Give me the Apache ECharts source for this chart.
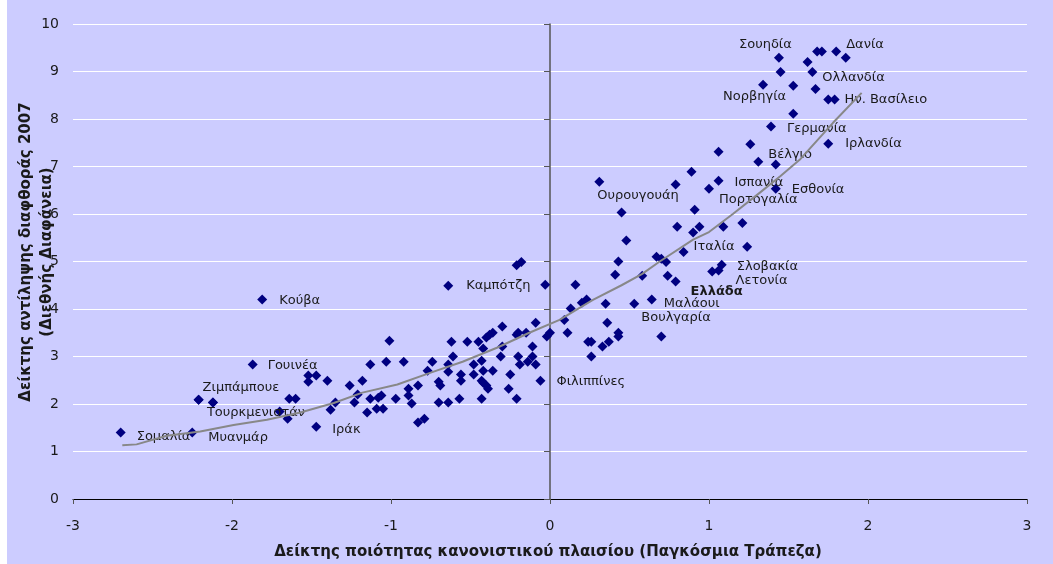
<!DOCTYPE html>
<html>
<head>
<meta charset="utf-8">
<script src="https://cdn.jsdelivr.net/npm/echarts@6/dist/echarts.min.js"></script>
<style>html,body{margin:0;padding:0;background:#fff}#c{width:1053px;height:564px}</style>
</head>
<body>
<div id="c"></div>
<script>
// Unlabelled countries: [regulatory quality, corruption perception index 2007]
const points = [
[-2.21,2.09],[-2.12,2.03],[-1.52,2.60],[-1.47,2.60],[-1.52,2.47],[-1.40,2.49],[-1.64,2.11],[-1.60,2.11],
[-1.70,1.84],[-1.65,1.69],[-1.38,1.88],[-1.35,2.03],[-1.26,2.39],[-1.23,2.03],[-1.18,2.49],[-1.21,2.20],
[-1.15,1.82],[-1.13,2.83],[-1.13,2.11],[-1.09,1.90],[-1.08,2.13],[-1.06,2.18],[-1.05,1.90],[-1.03,2.89],
[-1.01,3.33],[-0.97,2.11],[-0.92,2.89],[-0.89,2.32],[-0.89,2.18],[-0.87,2.01],[-0.83,2.39],[-0.83,1.61],
[-0.79,1.69],[-0.77,2.70],[-0.74,2.89],[-0.70,2.47],[-0.69,2.39],[-0.70,2.03],[-0.64,2.83],[-0.64,2.68],
[-0.62,3.31],[-0.61,3.00],[-0.64,2.03],[-0.57,2.11],[-0.56,2.62],[-0.56,2.49],[-0.52,3.31],[-0.48,2.83],
[-0.48,2.62],[-0.45,3.31],[-0.42,3.17],[-0.43,2.91],[-0.43,2.49],[-0.43,2.11],[-0.42,2.70],[-0.42,2.45],
[-0.40,2.39],[-0.39,2.32],[-0.40,3.40],[-0.38,3.46],[-0.36,3.50],[-0.36,2.70],[-0.31,3.00],[-0.30,3.63],
[-0.30,3.21],[-0.26,2.32],[-0.25,2.62],[-0.21,3.46],[-0.20,3.50],[-0.21,2.11],[-0.20,3.00],[-0.19,2.83],
[-0.15,3.50],[-0.14,2.89],[-0.11,3.21],[-0.09,3.71],[-0.11,3.00],[-0.09,2.83],[-0.02,3.42],[0.00,3.50],
[-0.03,4.51],[0.16,4.51],[-0.21,4.92],[-0.18,4.99],
[0.09,3.77],[0.11,3.50],[0.13,4.01],[0.20,4.13],[0.23,4.20],[0.24,3.31],[0.26,3.31],[0.26,3.00],
[0.33,3.21],[0.35,4.11],[0.36,3.71],[0.37,3.31],[0.43,3.50],[0.43,3.42],[0.70,3.42],
[0.41,4.72],[0.43,5.00],[0.48,5.44],[0.45,6.03],[0.58,4.70],[0.67,5.10],[0.70,5.06],[0.73,4.99],
[0.74,4.70],[0.79,6.62],[0.89,6.89],[0.80,5.73],[0.90,5.61],[0.91,6.09],[0.94,5.73],[1.09,5.73],
[1.21,5.81],[1.24,5.31],[1.02,4.79],[1.06,7.31],[1.26,7.47],[1.53,8.11],[1.42,7.04],[1.45,8.99],
[1.53,8.70],[1.62,9.20],[1.67,8.63],[1.68,9.42],[1.71,9.42],[1.86,9.29],[1.75,8.41]
];
// Labelled countries: [name, regulatory quality, CPI 2007]
const labelled = [
["Σομαλία",-2.70,1.40],["Μυανμάρ",-2.25,1.40],["Ζιμπάμπουε",-2.21,2.09],["Τουρκμενιστάν",-2.12,2.03],
["Γουινέα",-1.87,2.83],["Κούβα",-1.81,4.20],["Ιράκ",-1.47,1.52],["Καμπότζη",-0.64,4.49],
["Φιλιππίνες",-0.06,2.49],["Ουρουγουάη",0.31,6.68],["Μαλάουι",0.64,4.20],["Βουλγαρία",0.53,4.11],
["Ελλάδα",0.79,4.58],["Ιταλία",0.84,5.20],["Σλοβακία",1.08,4.93],["Λετονία",1.06,4.81],
["Πορτογαλία",1.00,6.53],["Ισπανία",1.06,6.70],["Εσθονία",1.42,6.53],["Βέλγιο",1.31,7.10],
["Γερμανία",1.39,7.84],["Ιρλανδία",1.75,7.48],["Ην. Βασίλειο",1.79,8.41],["Ολλανδία",1.65,8.99],
["Νορβηγία",1.34,8.72],["Σουηδία",1.44,9.29],["Δανία",1.80,9.42]
];
// Trend line
const trend = [
[-2.69,1.13],[-2.60,1.15],[-2.41,1.33],[-2.20,1.42],[-1.99,1.56],[-1.78,1.67],[-1.57,1.82],[-1.36,2.02],
[-1.18,2.24],[-0.96,2.41],[-0.75,2.66],[-0.55,2.89],[-0.33,3.19],[-0.13,3.50],[0.06,3.77],[0.27,4.19],
[0.45,4.50],[0.58,4.74],[0.69,5.00],[0.90,5.46],[1.00,5.62],[1.15,6.00],[1.32,6.45],[1.45,6.80],
[1.57,7.14],[1.78,7.92],[1.96,8.55]
];
const xTicks = [-3,-2,-1,0,1,2,3];
const yTicks = [0,1,2,3,4,5,6,7,8,9,10];

// label offsets (style only)
const labelOffsets = {
"Σομαλία":[16,4],"Μυανμάρ":[16,5],"Ζιμπάμπουε":[4,-12],"Τουρκμενιστάν":[-6,10],"Γουινέα":[15,1],
"Κούβα":[17,1],"Ιράκ":[16,3],"Καμπότζη":[18,0],"Φιλιππίνες":[16,1],"Ουρουγουάη":[-2,14],
"Μαλάουι":[12,4],"Βουλγαρία":[7,14],"Ελλάδα":[15,10],"Ιταλία":[10,-5],"Σλοβακία":[15,2],
"Λετονία":[17,10],"Πορτογαλία":[10,11],"Ισπανία":[16,2],"Εσθονία":[16,1],"Βέλγιο":[10,-7],
"Γερμανία":[16,2],"Ιρλανδία":[17,0],"Ην. Βασίλειο":[10,0],"Ολλανδία":[10,6],"Νορβηγία":[-40,12],
"Σουηδία":[-40,-13],"Δανία":[10,-7]
};

const FONT = '"DejaVu Sans", Verdana, sans-serif';
const chart = echarts.init(document.getElementById('c'));
const labelledData = labelled.map(([n,x,y]) => ({
  value:[x,y], name:n,
  label:{show:true, formatter:n, position:'inside', align:'left', verticalAlign:'middle',
    offset:labelOffsets[n]||[12,0], fontSize:13, fontFamily:FONT, color:'#1a1a1a',
    fontWeight: n==='Ελλάδα' ? 'bold' : 'normal'}
}));
const markerStyle = {color:'#000080', opacity:1};
chart.setOption({
  backgroundColor:'#ccccff',
  animation:false,
  graphic:[
    {type:'rect', shape:{x:0,y:0,width:7,height:564}, style:{fill:'#ffffff'}, z:-10},
    {type:'text', x:37, y:252, rotation:Math.PI/2,
     style:{text:'Δείκτης αντίληψης διαφθοράς 2007\n(Διεθνής Διαφάνεια)', align:'center', verticalAlign:'middle',
       font:'bold 15px '+FONT, fill:'#1a1a1a', lineHeight:21}},
    {type:'text', x:548, y:552,
     style:{text:'Δείκτης ποιότητας κανονιστικού πλαισίου (Παγκόσμια Τράπεζα)', align:'center', verticalAlign:'middle',
       font:'bold 15px '+FONT, fill:'#1a1a1a'}}
  ],
  grid:{left:73, right:26, top:24, bottom:65},
  xAxis:{type:'value', min:xTicks[0], max:xTicks[xTicks.length-1], interval:1,
    axisLine:{onZero:true, lineStyle:{color:'#000', width:1}},
    axisTick:{show:true, length:5, lineStyle:{color:'#555'}},
    axisLabel:{margin:20, fontSize:14, fontFamily:FONT, color:'#1a1a1a'},
    splitLine:{show:false}},
  yAxis:{type:'value', min:yTicks[0], max:yTicks[yTicks.length-1], interval:1,
    axisLine:{show:true, onZero:true, lineStyle:{color:'#555', width:1.5}},
    axisTick:{show:true, length:6, lineStyle:{color:'#555'}},
    axisLabel:{margin:14, fontSize:14, fontFamily:FONT, color:'#1a1a1a'},
    splitLine:{show:true, lineStyle:{color:'#ffffff', width:1.2}}},
  series:[
    {type:'scatter', data:points, symbol:'diamond', symbolSize:[10,10], itemStyle:markerStyle, z:3},
    {type:'scatter', data:labelledData, symbol:'diamond', symbolSize:[10,10], itemStyle:markerStyle, z:3},
    {type:'line', data:trend, showSymbol:false, symbol:'none', lineStyle:{color:'#888888', width:2}, z:4, silent:true}
  ]
});
</script>
</body>
</html>
